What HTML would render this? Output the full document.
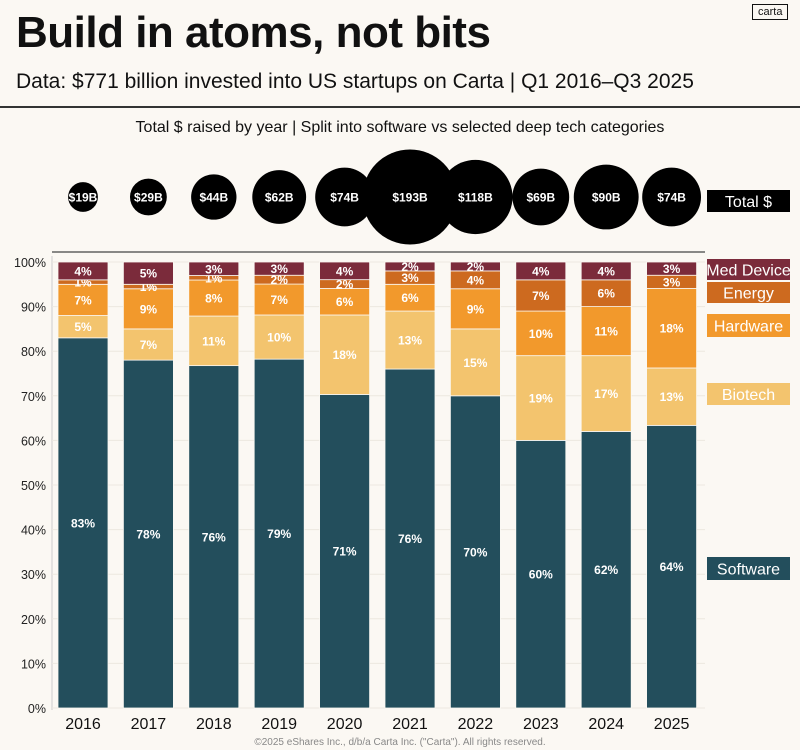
<!DOCTYPE html>
<html><head><meta charset="utf-8">
<style>
body{margin:0;background:#fbf8f3;font-family:"Liberation Sans",sans-serif;}
#wrap{position:relative;width:800px;height:750px;overflow:hidden;background:#fbf8f3;}
.t{position:absolute;white-space:nowrap;}
</style></head>
<body>
<div id="wrap">
<div class="t" style="left:16px;top:8px;font-size:44px;font-weight:bold;color:#111;letter-spacing:-0.5px">Build in atoms, not bits</div>
<div class="t" style="left:16px;top:70px;font-size:21px;color:#111">Data: $771 billion invested into US startups on Carta | Q1 2016–Q3 2025</div>
<div class="t" style="left:752px;top:4px;font-size:11px;border:1px solid #111;padding:1px 5px;color:#111">carta</div>
<div style="position:absolute;left:0;top:106px;width:800px;height:2px;background:#333"></div>
<div class="t" style="left:0;width:800px;text-align:center;top:119px;font-size:16px;color:#111">Total $ raised by year | Split into software vs  selected deep tech categories</div>
<svg id="chart" width="800" height="750" style="position:absolute;left:0;top:0"></svg>
<div class="t" style="left:0;width:800px;text-align:center;top:737px;font-size:10px;color:#888">©2025 eShares Inc., d/b/a Carta Inc. ("Carta"). All rights reserved.</div>
</div>
<script>
const years=["2016","2017","2018","2019","2020","2021","2022","2023","2024","2025"];
const totals=[19,29,44,62,74,193,118,69,90,74];
const software=[83,78,76,79,71,76,70,60,62,64];
const biotech=[5,7,11,10,18,13,15,19,17,13];
const hardware=[7,9,8,7,6,6,9,10,11,18];
const energy=[1,1,1,2,2,3,4,7,6,3];
const medDevice=[4,5,3,3,4,2,2,4,4,3];
const yTicks=[0,10,20,30,40,50,60,70,80,90,100];
const series=[
 {name:"software",label:"Software",vals:software,color:"#234e5c",text:"#fff",ly:557,lh:23},
 {name:"biotech",label:"Biotech",vals:biotech,color:"#f3c46e",text:"#fff",ly:383,lh:22},
 {name:"hardware",label:"Hardware",vals:hardware,color:"#f2992c",text:"#fff",ly:314,lh:23},
 {name:"energy",label:"Energy",vals:energy,color:"#cd6a1f",text:"#fff",ly:282,lh:21},
 {name:"med-device",label:"Med Device",vals:medDevice,color:"#7b2b3b",text:"#fff",ly:259,lh:21}
];
const NS="http://www.w3.org/2000/svg";
const svg=document.getElementById("chart");
const y0=708,y100=262,bw=50;
function yPos(p){return y0-(y0-y100)*p/100;}
function xC(i){return 83+i*65.4;}
function mk(tag,attrs,parent){const e=document.createElementNS(NS,tag);for(const k in attrs)e.setAttribute(k,attrs[k]);(parent||svg).appendChild(e);return e;}
// top line & axis
let l=mk("line",{x1:52,x2:705,y1:252,y2:252,stroke:"#444","stroke-width":1.2});


l=mk("line",{x1:52,x2:52,y1:256,y2:710,stroke:"#ccc","stroke-width":1});


yTicks.forEach(t=>{
 const g=mk("line",{x1:52,x2:705,y1:yPos(t),y2:yPos(t),stroke:"#ece8e0","stroke-width":1});
 
 
 const tx=mk("text",{x:46,y:yPos(t)+5,"text-anchor":"end","font-size":12.5,fill:"#222","font-family":"Liberation Sans, sans-serif"});
 tx.textContent=t+"%";
 
 
});
years.forEach((yr,i)=>{
 const sum=series.reduce((a,s)=>a+s.vals[i],0);
 let cum=0;
 series.forEach(s=>{
  const v=s.vals[i]*100/sum;
  const top=yPos(cum+v),bot=yPos(cum);
  const r=mk("rect",{x:xC(i)-bw/2,y:top,width:bw,height:bot-top,fill:s.color,stroke:"#fbf8f3","stroke-width":0.8});
  
  
  const tx=mk("text",{x:xC(i),y:(top+bot)/2+4.5,"text-anchor":"middle","font-size":12,"font-weight":"bold",fill:s.text,"font-family":"Liberation Sans, sans-serif"});
  tx.textContent=s.vals[i]+"%";
  
  
  cum+=v;
 });
 const xl=mk("text",{x:xC(i),y:729,"text-anchor":"middle","font-size":16,fill:"#111","font-family":"Liberation Sans, sans-serif"});
 xl.textContent=yr;
 
 
 const rad=47.5*Math.sqrt(totals[i]/193);
 const c=mk("circle",{cx:xC(i),cy:197,r:rad,fill:"#000"});
 
 
 const ct=mk("text",{x:xC(i),y:201.5,"text-anchor":"middle","font-size":12,"font-weight":"bold",fill:"#fff","font-family":"Liberation Sans, sans-serif"});
 ct.textContent="$"+totals[i]+"B";
 
 
});
// legend
function legend(label,color,y,h,name){
 const r=mk("rect",{x:707,y:y,width:83,height:h,fill:color});
 
 
 const t=mk("text",{x:748.5,y:y+h/2+6,"text-anchor":"middle","font-size":16,fill:"#fff","font-family":"Liberation Sans, sans-serif"});
 t.textContent=label;
 
 
}
legend("Total $","#000",190,22,"total");
series.forEach(s=>legend(s.label,s.color,s.ly,s.lh,s.name));
</script>
</body></html>
